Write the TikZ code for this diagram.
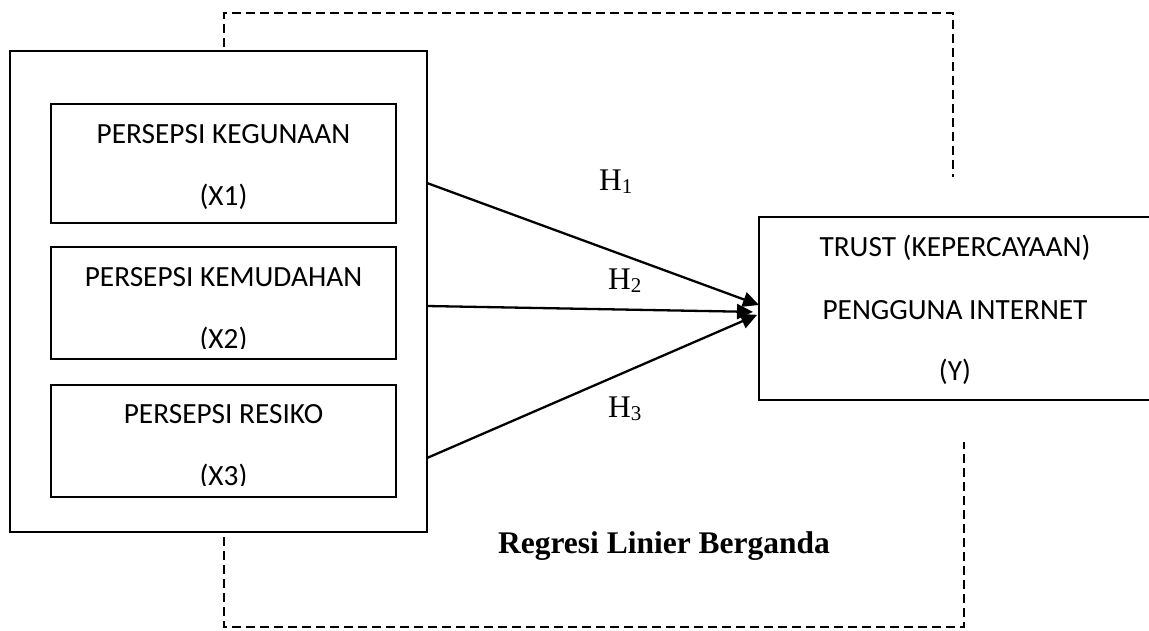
\documentclass[tikz,border=0pt]{standalone}
\usepackage{fontspec}
\setmainfont{Carlito}
\newfontfamily\serifhead{Liberation Serif}
\usetikzlibrary{arrows.meta}
\newcommand\hyp[1]{H\raisebox{-3pt}{\fontsize{21}{21}\selectfont #1}}
\tikzset{
  box/.style={draw, line width=2pt, outer sep=0pt, inner sep=0pt, anchor=north west},
  boxtext/.style={inner sep=0pt, anchor=base, font=\fontsize{29.3}{30}\selectfont},
  hlabel/.style={inner sep=0pt, anchor=base west, font=\serifhead\fontsize{31.5}{33}\selectfont},
  path/.style={line width=2.3pt, -{Triangle[length=16pt,width=15pt]}},
  loop/.style={line width=1.6pt, dash pattern=on 9pt off 5pt}
}
\begin{document}
\begin{tikzpicture}[x=1pt,y=-1pt]
\useasboundingbox (0,0) rectangle (1149,630);

% independent variables grouped in one frame
\node[box, minimum width=417pt, minimum height=481pt] (outer) at (10,51) {};
\node[box, minimum width=345pt, minimum height=119pt] (x1) at (51,104) {};
\node[box, minimum width=345pt, minimum height=112pt] (x2) at (51,247) {};
\node[box, minimum width=345pt, minimum height=112pt] (x3) at (51,385) {};

\node[boxtext] (x1a) at (223.5,143) {PERSEPSI KEGUNAAN};
\node[boxtext] (x1b) at (223.5,205) {(X1)};
\node[boxtext] (x2a) at (223.5,286) {PERSEPSI KEMUDAHAN};
\begin{scope}
  \clip (51,247) rectangle (396,348.5);
  \node[boxtext] (x2b) at (223.5,348) {(X2)};
\end{scope}
\node[boxtext] (x3a) at (223.5,423) {PERSEPSI RESIKO};
\begin{scope}
  \clip (51,385) rectangle (396,485.5);
  \node[boxtext] (x3b) at (223.5,485) {(X3)};
\end{scope}

% dependent variable
\node[box, minimum width=400pt, minimum height=183pt] (trust) at (759,217) {};
\node[boxtext] (ya) at (955,256) {TRUST (KEPERCAYAAN)};
\node[boxtext] (yb) at (955,319) {PENGGUNA INTERNET};
\node[boxtext] (yc) at (955,380) {(Y)};

% hypotheses
\draw[path] (outer.east |- 0,183) -- (trust.west |- 0,305);
\draw[path, shorten >=6pt] (outer.east |- 0,306) -- (trust.west |- 0,312);
\draw[path, shorten >=2pt] (outer.east |- 0,458) -- (trust.west |- 0,314);

\node[hlabel] (h1) at (599,190) {\hyp{1}};
\node[hlabel] (h2) at (608,289) {\hyp{2}};
\node[hlabel] (h3) at (608,417) {\hyp{3}};

% regression frame
\coordinate (ta) at (224,47);
\coordinate (tb) at (953,177);
\coordinate (ba) at (224,537);
\coordinate (bb) at (964,442);
\draw[loop] (ta) -- (224,13) -- (953,13) -- (tb);
\draw[loop] (ba) -- (224,627) -- (964,627) -- (bb);

\node[inner sep=0pt, anchor=base, font=\serifhead\bfseries\fontsize{31.5}{33}\selectfont] (reg) at (664,553) {Regresi Linier Berganda};
\end{tikzpicture}
\end{document}
